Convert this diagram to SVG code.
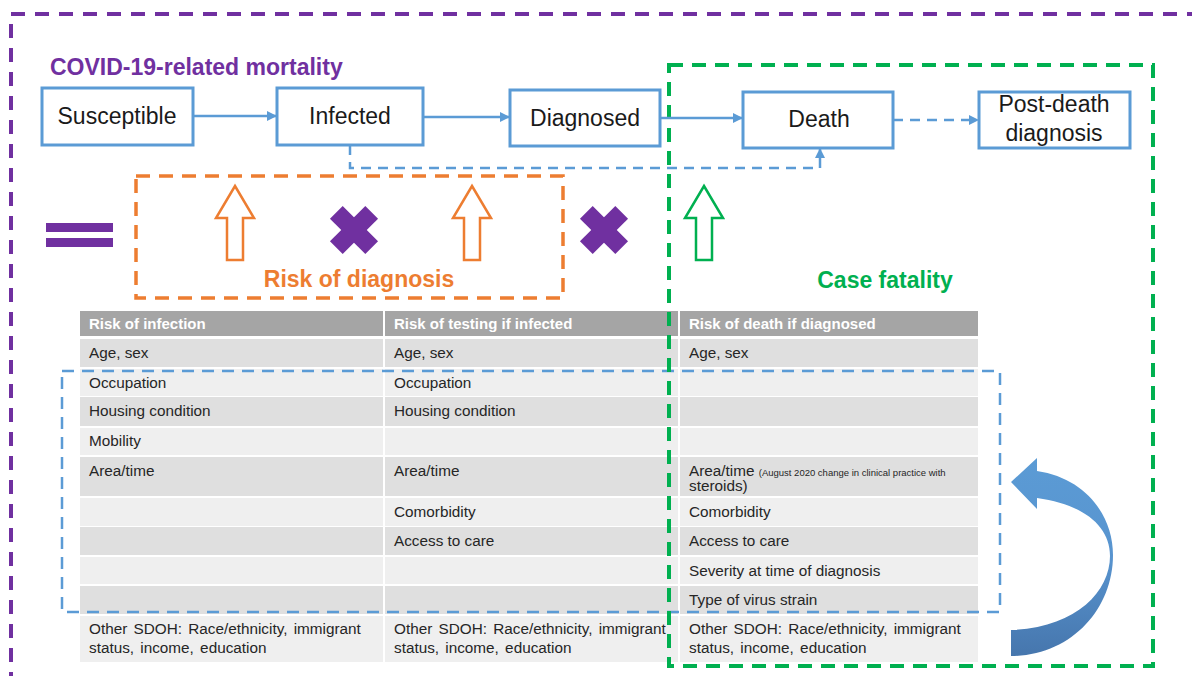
<svg xmlns="http://www.w3.org/2000/svg" width="1192" height="676" viewBox="0 0 1192 676">
<style>
text{font-family:"Liberation Sans",Arial,sans-serif}
.node rect{fill:#fff;stroke:#5b9bd5;stroke-width:3}
.node text{font-size:23px;fill:#1a1a1a;text-anchor:middle}
.conn{stroke:#5b9bd5;stroke-width:2.5;fill:none}
.dash{stroke-dasharray:10 7}
.hdr{fill:#a5a5a5}
.dk{fill:#dfdfdf}
.lt{fill:#efefef}
.th{font-size:15px;font-weight:bold;fill:#fff}
.td{font-size:15.3px;fill:#262626}
.hollow{fill:#fff;stroke-width:2.5}
</style>
<defs>
<marker id="ah" viewBox="0 0 10 10" refX="9" refY="5" markerWidth="4" markerHeight="4" orient="auto"><path d="M0,0 L10,5 L0,10 z" fill="#5b9bd5"/></marker>
<linearGradient id="cg" x1="0" y1="0" x2="0" y2="1"><stop offset="0" stop-color="#5b9bd5"/><stop offset="0.5" stop-color="#5894cf"/><stop offset="1" stop-color="#4676ad"/></linearGradient>
<g id="xmark"><rect x="-25" y="-9" width="50" height="18" transform="rotate(45)"/><rect x="-25" y="-9" width="50" height="18" transform="rotate(-45)"/></g>
</defs>
<rect width="1192" height="676" fill="#fff"/>

<!-- outer purple frame -->
<rect x="11" y="14" width="1200" height="720" fill="none" stroke="#7030a0" stroke-width="4" stroke-dasharray="14 10"/>
<text x="50" y="75" font-size="23" font-weight="bold" fill="#7030a0">COVID-19-related mortality</text>

<!-- table -->
<g id="table">
<rect x="80" y="311" width="303" height="25" class="hdr"/><rect x="385" y="311" width="293" height="25" class="hdr"/><rect x="680" y="311" width="298" height="25" class="hdr"/>
<g class="dk"><rect x="80" y="339" width="898" height="28"/><rect x="80" y="397" width="898" height="29"/><rect x="80" y="457" width="898" height="39"/><rect x="80" y="527" width="898" height="28"/><rect x="80" y="586" width="898" height="28"/></g>
<g class="lt"><rect x="80" y="369" width="898" height="27"/><rect x="80" y="428" width="898" height="27"/><rect x="80" y="498" width="898" height="28"/><rect x="80" y="557" width="898" height="27"/><rect x="80" y="616" width="898" height="46"/></g>
<g stroke="#fff" stroke-width="2"><line x1="384" y1="311" x2="384" y2="662"/><line x1="679" y1="311" x2="679" y2="662"/></g>
<text x="89" y="329" class="th">Risk of infection</text>
<text x="394" y="329" class="th">Risk of testing if infected</text>
<text x="689" y="329" class="th">Risk of death if diagnosed</text>
<text x="89" y="358" class="td">Age, sex</text><text x="394" y="358" class="td">Age, sex</text><text x="689" y="358" class="td">Age, sex</text>
<text x="89" y="388" class="td">Occupation</text><text x="394" y="388" class="td">Occupation</text>
<text x="89" y="416" class="td">Housing condition</text><text x="394" y="416" class="td">Housing condition</text>
<text x="89" y="446" class="td">Mobility</text>
<text x="89" y="476" class="td">Area/time</text><text x="394" y="476" class="td">Area/time</text>
<text x="689" y="476" class="td" font-size="16.5">Area/time <tspan font-size="9.5">(August 2020 change in clinical practice with</tspan></text>
<text x="689" y="491" class="td" font-size="9.5">steroids)</text>
<text x="394" y="517" class="td">Comorbidity</text><text x="689" y="517" class="td">Comorbidity</text>
<text x="394" y="546" class="td">Access to care</text><text x="689" y="546" class="td">Access to care</text>
<text x="689" y="576" class="td">Severity at time of diagnosis</text>
<text x="689" y="605" class="td">Type of virus strain</text>
<text x="89" y="634" class="td" word-spacing="2">Other SDOH: Race/ethnicity, immigrant</text><text x="89" y="653" class="td" word-spacing="2">status, income, education</text>
<text x="394" y="634" class="td" word-spacing="2">Other SDOH: Race/ethnicity, immigrant</text><text x="394" y="653" class="td" word-spacing="2">status, income, education</text>
<text x="689" y="634" class="td" word-spacing="2">Other SDOH: Race/ethnicity, immigrant</text><text x="689" y="653" class="td" word-spacing="2">status, income, education</text>
</g>

<!-- blue dashed grouping -->
<rect x="62" y="371" width="938" height="241" fill="none" stroke="#5b9bd5" stroke-width="2.5" stroke-dasharray="12 8"/>

<!-- green case fatality frame -->
<rect x="669" y="65" width="484" height="601" fill="none" stroke="#00b050" stroke-width="4" stroke-dasharray="14 9"/>
<text x="885" y="288" font-size="23" font-weight="bold" fill="#00b050" text-anchor="middle">Case fatality</text>

<!-- orange risk of diagnosis frame -->
<rect x="136" y="176" width="427" height="122" fill="none" stroke="#ed7d31" stroke-width="3.5" stroke-dasharray="14 9"/>
<text x="359" y="287" font-size="23" font-weight="bold" fill="#ed7d31" text-anchor="middle">Risk of diagnosis</text>

<!-- equals -->
<g fill="#7030a0"><rect x="46" y="223" width="67" height="9"/><rect x="46" y="238" width="67" height="9"/></g>

<!-- hollow arrows -->
<path class="hollow" stroke="#ed7d31" d="M235,186 L254,218 L243,218 L243,260 L227,260 L227,218 L216,218 Z"/>
<path class="hollow" stroke="#ed7d31" d="M472,186 L491,218 L480,218 L480,260 L464,260 L464,218 L453,218 Z"/>
<path class="hollow" stroke="#00b050" d="M704,186 L723,218 L712,218 L712,260 L696,260 L696,218 L685,218 Z"/>

<!-- multiply signs -->
<g fill="#7030a0"><use href="#xmark" x="354" y="230"/><use href="#xmark" x="604" y="230"/></g>

<!-- connectors -->
<g id="connectors">
<line class="conn" x1="193" y1="116" x2="276" y2="116" marker-end="url(#ah)"/>
<line class="conn" x1="423" y1="117" x2="509" y2="117" marker-end="url(#ah)"/>
<line class="conn" x1="660" y1="118" x2="742" y2="118" marker-end="url(#ah)"/>
<line class="conn dash" x1="893" y1="120" x2="978" y2="120" marker-end="url(#ah)"/>
<path class="conn dash" d="M350,145 L350,168 L820,168 L820,149" marker-end="url(#ah)"/>
</g>

<!-- nodes -->
<g id="susceptible" class="node"><rect x="42" y="88" width="151" height="57"/><text x="117" y="124">Susceptible</text></g>
<g id="infected" class="node"><rect x="277" y="88" width="146" height="57"/><text x="350" y="124">Infected</text></g>
<g id="diagnosed" class="node"><rect x="510" y="90" width="150" height="56"/><text x="585" y="126">Diagnosed</text></g>
<g id="death" class="node"><rect x="743" y="92" width="150" height="56"/><text x="819" y="127">Death</text></g>
<g id="postdeath" class="node"><rect x="979" y="92" width="151" height="56"/><text x="1054" y="112">Post-death</text><text x="1054" y="141">diagnosis</text></g>

<!-- curved arrow -->
<path fill="url(#cg)" d="M1011,630 C1075,628 1110,592 1110,556 C1110,525 1082,504 1037,498 L1037,509 L1011,482 L1037,458 L1037,471 C1085,478 1113,515 1113,555 C1113,610 1070,656 1011,656 Z"/>
</svg>
